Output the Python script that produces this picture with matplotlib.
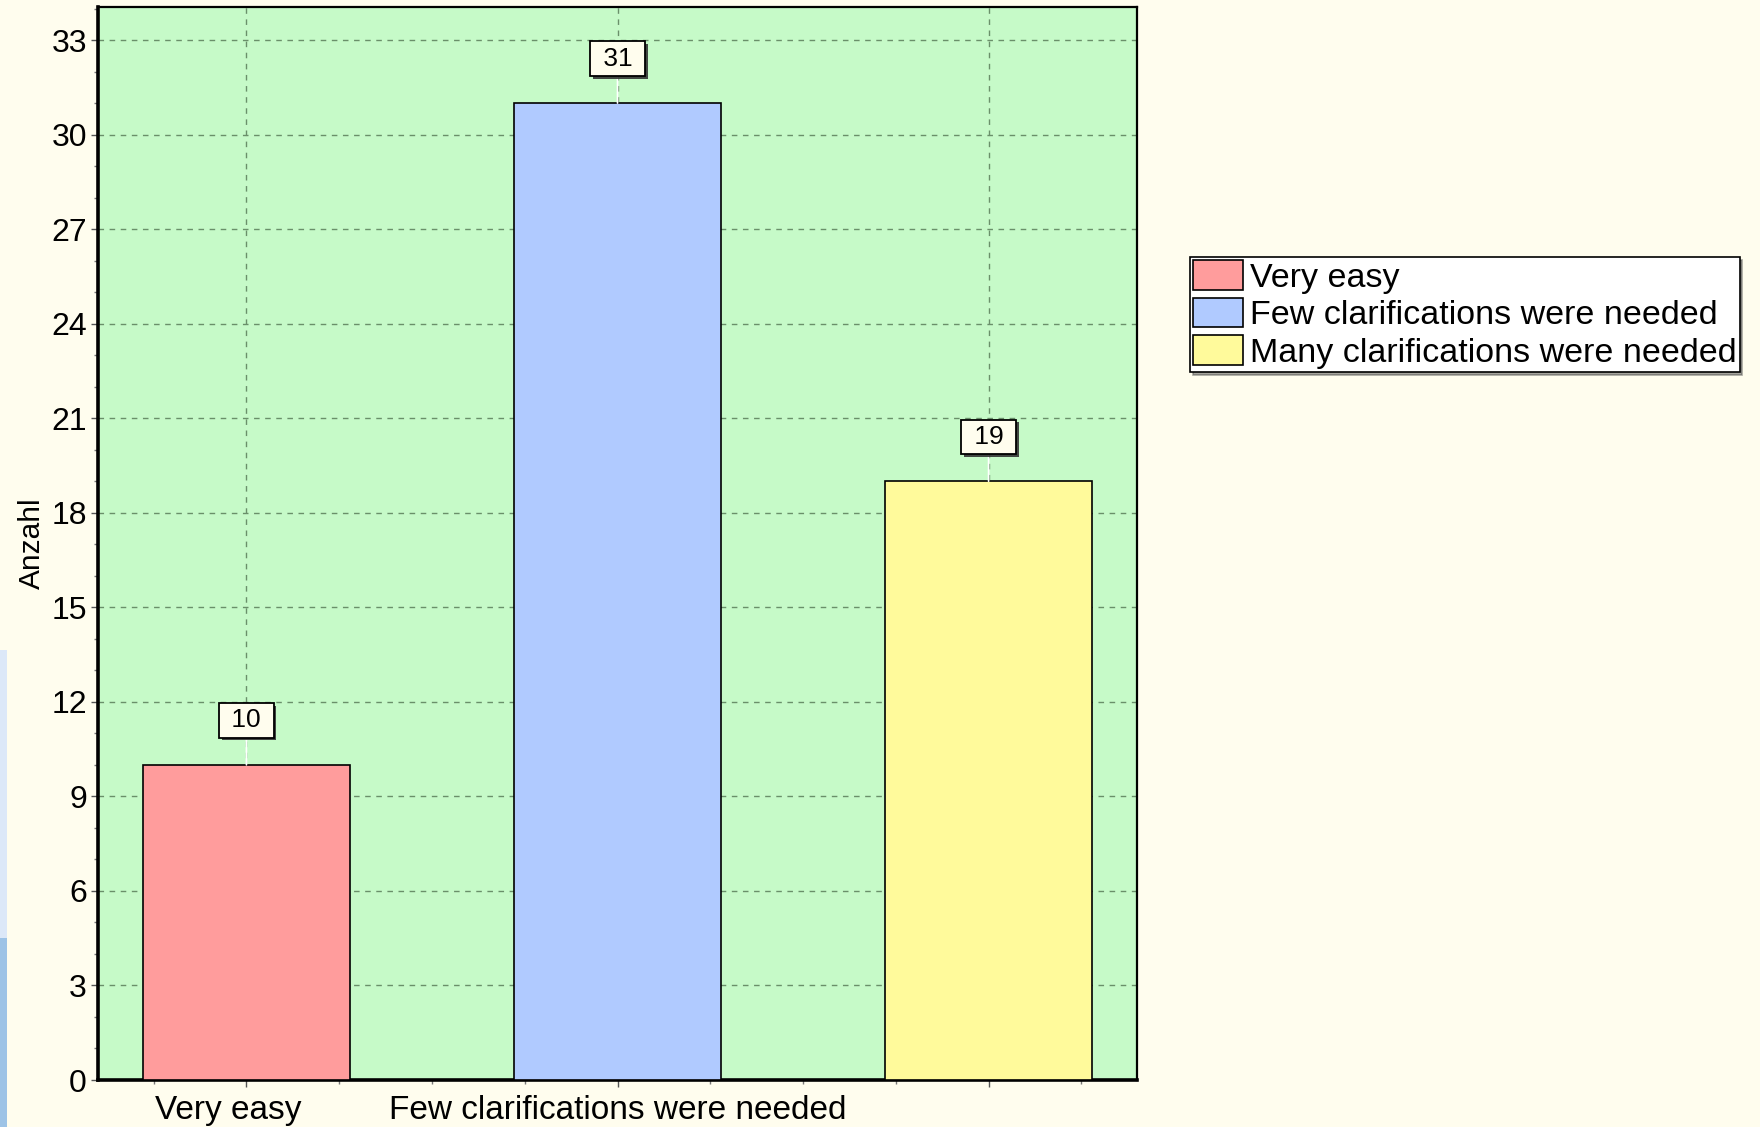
import matplotlib
matplotlib.use("Agg")
import matplotlib.pyplot as plt
import matplotlib.patheffects as pe
import matplotlib.transforms as mtrans
from matplotlib.patches import Patch, Rectangle
from matplotlib.ticker import MultipleLocator

categories = ["Very easy", "Few clarifications were needed", "Many clarifications were needed"]
values = [10, 31, 19]
colors = ["#FF9C9C", "#B0CAFF", "#FFFA9B"]
ytick_values = list(range(0, 34, 3))

plt.rcParams['font.family'] = ['Liberation Sans', 'DejaVu Sans']

fig = plt.figure(figsize=(17.6, 11.27), dpi=100, facecolor="#FFFDEE")
ax = fig.add_axes([98/1760, 1-1080/1127, (1137-98)/1760, (1080-7)/1127])
ax.set_facecolor("#C6FAC8")

x = list(range(len(categories)))
ax.bar(x, values, width=0.56, color=colors, edgecolor="black", linewidth=1.2, zorder=3)

ax.set_xlim(-0.4, 2.4)
ax.set_ylim(0, 34.05)
ax.set_yticks(ytick_values)
ax.yaxis.set_minor_locator(MultipleLocator(1))
ax.xaxis.set_minor_locator(MultipleLocator(0.25))
ax.set_xticks(x)
ax.tick_params(axis='y', labelsize=23, length=5, width=1, color="#555555", pad=3)
ax.tick_params(axis='x', length=5, width=1, color="#555555", pad=6)
ax.tick_params(which='minor', length=3, width=1, color="#777777")
ax.set_xticklabels(categories, fontsize=24)
xlabels = ax.get_xticklabels()
xlabels[2].set_visible(False)
xlabels[0].set_transform(xlabels[0].get_transform() +
                         mtrans.ScaledTranslation(-18/100, 0, fig.dpi_scale_trans))

ax.grid(True, which='major', linestyle=(0, (4, 4)), color="#6A8F6A", linewidth=1, zorder=1)
ax.set_axisbelow(True)

for side in ["left", "bottom"]:
    ax.spines[side].set_linewidth(2.6)
for side in ["top", "right"]:
    ax.spines[side].set_linewidth(1.6)

ax.set_ylabel("Anzahl", fontsize=21.5, labelpad=4)

for xi, v in zip(x, values):
    ann = ax.annotate(f" {v} ", xy=(xi, v), xytext=(0, 32), textcoords="offset points",
                      ha="center", va="center", fontsize=19, zorder=5,
                      bbox=dict(boxstyle="square,pad=0.2", fc="#FFFDEE", ec="black", lw=1.3),
                      arrowprops=dict(arrowstyle="-", color="white", lw=1.2, shrinkA=0, shrinkB=0))
    ann.get_bbox_patch().set_path_effects([
        pe.SimplePatchShadow(offset=(2, -2), shadow_rgbFace="#333333", alpha=0.9), pe.Normal()])

handles = [Patch(facecolor=c, edgecolor="black", linewidth=1.2) for c in colors]
leg = fig.legend(handles, categories, loc="upper left", bbox_to_anchor=(1190/1760, 1-257/1127),
                 bbox_transform=fig.transFigure, fontsize=24.5, frameon=True, fancybox=False,
                 framealpha=1, edgecolor="black", facecolor="white", shadow=True,
                 handlelength=1.45, handleheight=0.95, handletextpad=0.2, labelspacing=0.12,
                 borderpad=0.1, borderaxespad=0)
leg.get_frame().set_linewidth(1.2)

# left-edge window strip
fig.patches.append(Rectangle((0, 1-938/1127), 7/1760, (938-650)/1127, transform=fig.transFigure,
                             facecolor="#DCE8F8", edgecolor="none"))
fig.patches.append(Rectangle((0, 0), 7/1760, 1-938/1127, transform=fig.transFigure,
                             facecolor="#9DC3E6", edgecolor="none"))

fig.savefig("out.png", dpi=100, facecolor=fig.get_facecolor())
